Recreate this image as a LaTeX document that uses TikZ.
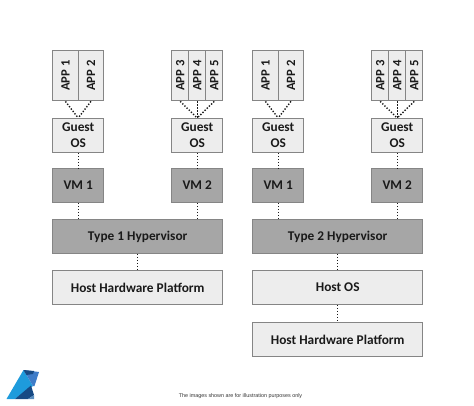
\documentclass[tikz,border=0pt]{standalone}
\usepackage{fontspec}
\setmainfont{Carlito}
\newfontfamily\notefont{Liberation Sans}
\definecolor{lightbox}{HTML}{EDEDED}
\definecolor{darkbox}{HTML}{A6A6A6}
\definecolor{edgegray}{HTML}{858585}
\definecolor{inktext}{HTML}{1A1A1A}
\definecolor{logosky}{HTML}{1E9BDC}
\definecolor{logomid}{HTML}{3F7CC8}
\definecolor{logonavy}{HTML}{174A84}
\definecolor{logosteel}{HTML}{5B8FC0}
\definecolor{logodeep}{HTML}{1F5A9C}
\tikzset{
  x=0.75pt,y=-0.75pt,
  boxbase/.style={draw=edgegray,line width=1.05pt,inner sep=0pt,anchor=north west,align=center,text=inktext,font=\fontsize{10}{12.2}\selectfont\bfseries},
  lightnode/.style={boxbase,fill=lightbox},
  darknode/.style={boxbase,fill=darkbox},
  appnode/.style={lightnode,font=\fontsize{9.5}{11}\selectfont\bfseries},
  apptext/.style={rotate=90,text=inktext,font=\fontsize{9.5}{11}\selectfont\bfseries,inner sep=0pt},
  link/.style={dash pattern=on 1pt off 1.25pt,line width=1.05pt,black!90},
}
\begin{document}
\begin{tikzpicture}
\useasboundingbox (0,0) rectangle (474,406);
\foreach \o/\p in {0/L,200/R}{
  \begin{scope}[xshift=\o*0.75pt]
  \node[appnode,minimum width=25.5*0.75pt,minimum height=50*0.75pt,label={[apptext]center:APP 1}] (\p a1) at (52,50) {};
  \node[appnode,minimum width=25.5*0.75pt,minimum height=50*0.75pt,label={[apptext]center:APP 2}] (\p a2) at (77.5,50) {};
  \node[appnode,minimum width=17*0.75pt,minimum height=50*0.75pt,label={[apptext]center:APP 3}] (\p a3) at (171,50) {};
  \node[appnode,minimum width=17*0.75pt,minimum height=50*0.75pt,label={[apptext]center:APP 4}] (\p a4) at (188,50) {};
  \node[appnode,minimum width=17*0.75pt,minimum height=50*0.75pt,label={[apptext]center:APP 5}] (\p a5) at (205,50) {};
  \node[lightnode,minimum width=51*0.75pt,minimum height=33.5*0.75pt] (\p g1) at (52,118) {Guest\\OS};
  \node[lightnode,minimum width=51*0.75pt,minimum height=33.5*0.75pt] (\p g2) at (171,118) {Guest\\OS};
  \node[darknode,minimum width=51*0.75pt,minimum height=33.5*0.75pt] (\p v1) at (52,168) {VM 1};
  \node[darknode,minimum width=51*0.75pt,minimum height=33.5*0.75pt] (\p v2) at (171,168) {VM 2};
  \draw[link] (\p a1.south) -- (\p g1.north);
  \draw[link] (\p a2.south) -- (\p g1.north);
  \draw[link] (\p a3.south) -- (\p g2.north);
  \draw[link] (\p a4.south) -- (\p g2.north);
  \draw[link] (\p a5.south) -- (\p g2.north);
  \draw[link] (\p g1) -- (\p v1);
  \draw[link] (\p g2) -- (\p v2);
  \end{scope}
}
\node[darknode,minimum width=170*0.75pt,minimum height=33.5*0.75pt] (h1) at (52,219) {Type 1 Hypervisor};
\node[darknode,minimum width=170*0.75pt,minimum height=33.5*0.75pt] (h2) at (252,219) {Type 2 Hypervisor};
\node[lightnode,minimum width=170*0.75pt,minimum height=33.5*0.75pt] (hw1) at (52,270) {Host Hardware Platform};
\node[lightnode,minimum width=170*0.75pt,minimum height=33.5*0.75pt] (os2) at (252,270) {Host OS};
\node[lightnode,minimum width=170*0.75pt,minimum height=33.5*0.75pt] (hw2) at (252,322) {Host Hardware Platform};
\draw[link] (Lv1.south) -- (Lv1.south |- h1.north);
\draw[link] (Lv2.south) -- (Lv2.south |- h1.north);
\draw[link] (Rv1.south) -- (Rv1.south |- h2.north);
\draw[link] (Rv2.south) -- (Rv2.south |- h2.north);
\draw[link] (h1) -- (hw1);
\draw[link] (h2) -- (os2);
\draw[link] (os2) -- (hw2);
\node[font=\notefont\fontsize{4.05}{5}\selectfont,text=black!80,inner sep=0pt] (note) at (240.5,396.5) {The images shown are for illustration purposes only};
% logo
\fill[logosky] (6.5,399) -- (23.5,370) -- (33,386) -- (15,399) -- cycle;
\fill[logomid] (23.5,370) -- (39,372) -- (34.5,386) -- (33,386) -- cycle;
\fill[logonavy] (23.5,370) -- (34,371) -- (33,374) -- (26.5,375) -- cycle;
\fill[logonavy] (15,399) -- (31,385.5) -- (34,395) -- (28,399) -- cycle;
\fill[logosteel] (28,399) -- (34,395) -- (34,399) -- cycle;
\end{tikzpicture}
\end{document}
